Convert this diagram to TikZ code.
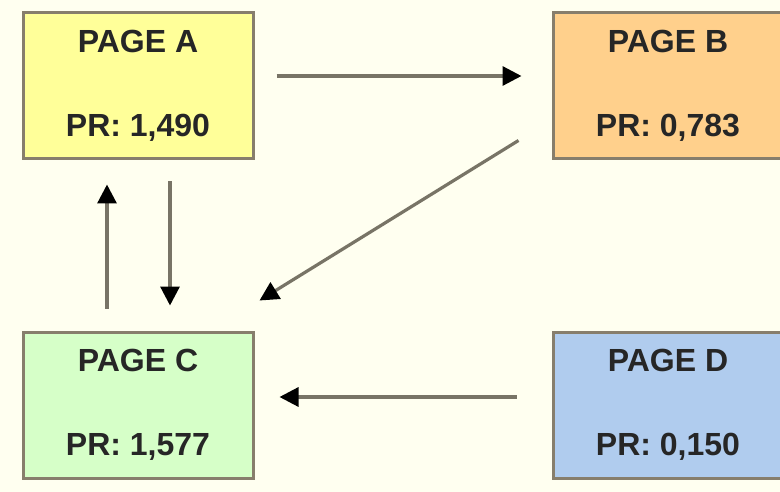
\documentclass[tikz,border=0pt]{standalone}
\usepackage{fontspec}
\setmainfont{Liberation Sans}
\usetikzlibrary{arrows.meta,calc}
\definecolor{bgc}{RGB}{255,255,240}
\definecolor{edgec}{RGB}{135,126,108}
\definecolor{linec}{RGB}{120,116,102}
\definecolor{fa}{RGB}{255,255,153}
\definecolor{fb}{RGB}{255,208,140}
\definecolor{fc}{RGB}{214,255,200}
\definecolor{fd}{RGB}{176,204,238}
\tikzset{
  page/.style={draw=edgec,line width=3pt,minimum width=230pt,minimum height=146pt,
    inner sep=0pt,align=center,text=black!85,font=\fontsize{32}{84}\selectfont\bfseries},
  link/.style={draw=linec,line width=3.2pt,-{Triangle[length=19pt,width=19pt,fill=black,color=black]}}
}
\begin{document}
\begin{tikzpicture}[x=1pt,y=-1pt]
\useasboundingbox (0,0) rectangle (780,492);
\fill[bgc] (0,0) rectangle (780,492);
\begin{scope}
\clip (0,0) rectangle (780,492);
\node[page,fill=fa] (a) at (138,86) {PAGE A\\PR: 1,490};
\node[page,fill=fb] (b) at (668,86) {PAGE B\\PR: 0,783};
\node[page,fill=fc] (c) at (138,405) {PAGE C\\PR: 1,577};
\node[page,fill=fd] (d) at (668,405) {PAGE D\\PR: 0,150};
\end{scope}
\draw[link] ($(a.east)+(22,-10)$) -- ($(b.west)+(-30,-10)$);
\draw[link] ($(b.south west)+(-33,-20)$) -- ($(c.north east)+(5,-30)$);
\draw[link] ($(c.north)+(-31,-22)$) -- ($(a.south)+(-31,24)$);
\draw[link] ($(a.south)+(32,21)$) -- ($(c.north)+(32,-25)$);
\draw[link] ($(d.west)+(-35,-8)$) -- ($(c.east)+(25,-8)$);
\end{tikzpicture}
\end{document}
